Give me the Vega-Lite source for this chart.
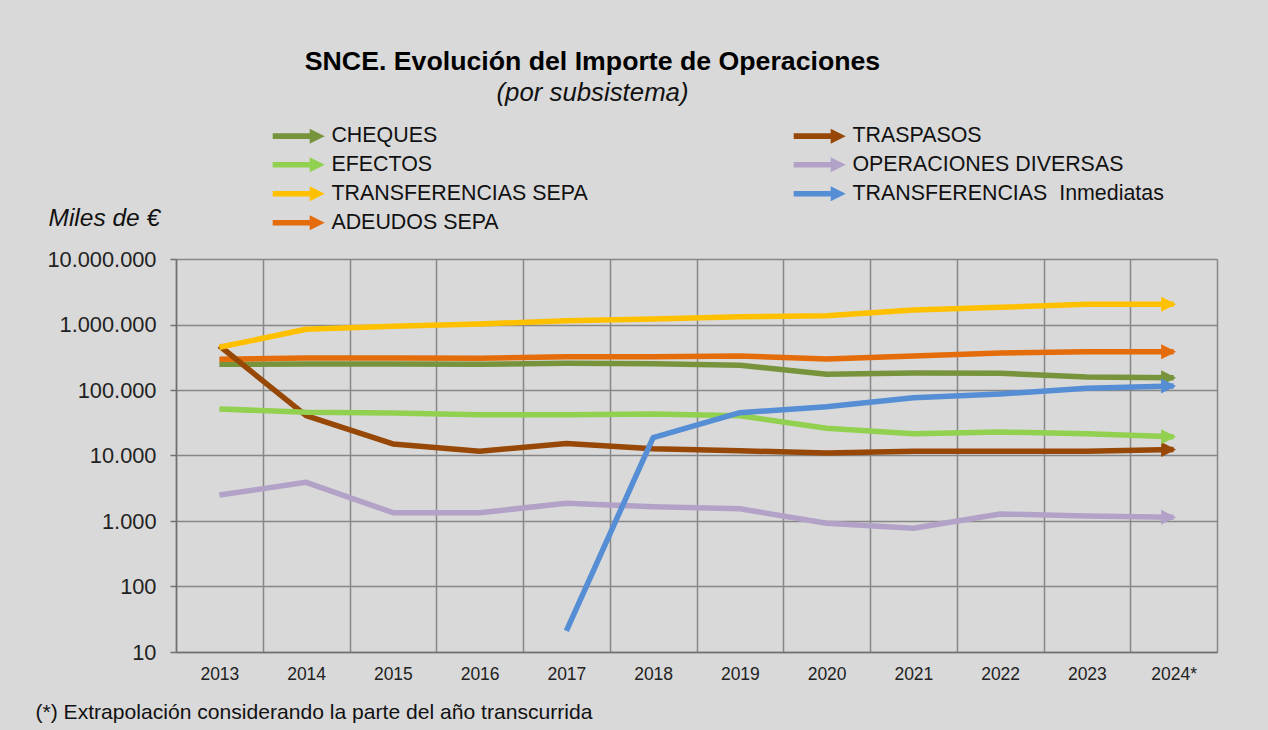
{
  "$schema": "https://vega.github.io/schema/vega-lite/v6.json",
  "autosize": {"type": "none"},
  "width": 1041,
  "height": 393,
  "padding": {"left": 176, "top": 259, "right": 51, "bottom": 78},
  "background": "#d9d9d9",
  "config": {
    "font": "Liberation Sans",
    "view": {"stroke": null},
    "legend": {"padding": 0}
  },
  "title": {
    "text": "SNCE. Evolución del Importe de Operaciones",
    "subtitle": "(por subsistema)",
    "anchor": "middle",
    "frame": "group",
    "dx": -104,
    "fontSize": 26.7,
    "fontWeight": "bold",
    "color": "#000000",
    "subtitleFontSize": 25.8,
    "subtitleFontStyle": "italic",
    "subtitleColor": "#111111",
    "subtitlePadding": 6,
    "offset": 19
  },
  "data": {
    "values": [
      {"year": "2013", "serie": "CHEQUES", "v": 247000},
      {"year": "2014", "serie": "CHEQUES", "v": 249000},
      {"year": "2015", "serie": "CHEQUES", "v": 249000},
      {"year": "2016", "serie": "CHEQUES", "v": 247000},
      {"year": "2017", "serie": "CHEQUES", "v": 255000},
      {"year": "2018", "serie": "CHEQUES", "v": 252000},
      {"year": "2019", "serie": "CHEQUES", "v": 238000},
      {"year": "2020", "serie": "CHEQUES", "v": 174000},
      {"year": "2021", "serie": "CHEQUES", "v": 182000},
      {"year": "2022", "serie": "CHEQUES", "v": 180000},
      {"year": "2023", "serie": "CHEQUES", "v": 158000},
      {"year": "2024*", "serie": "CHEQUES", "v": 154000},
      {"year": "2013", "serie": "ADEUDOS SEPA", "v": 294000},
      {"year": "2014", "serie": "ADEUDOS SEPA", "v": 308000},
      {"year": "2015", "serie": "ADEUDOS SEPA", "v": 308000},
      {"year": "2016", "serie": "ADEUDOS SEPA", "v": 305000},
      {"year": "2017", "serie": "ADEUDOS SEPA", "v": 323000},
      {"year": "2018", "serie": "ADEUDOS SEPA", "v": 323000},
      {"year": "2019", "serie": "ADEUDOS SEPA", "v": 330000},
      {"year": "2020", "serie": "ADEUDOS SEPA", "v": 297000},
      {"year": "2021", "serie": "ADEUDOS SEPA", "v": 330000},
      {"year": "2022", "serie": "ADEUDOS SEPA", "v": 367000},
      {"year": "2023", "serie": "ADEUDOS SEPA", "v": 384000},
      {"year": "2024*", "serie": "ADEUDOS SEPA", "v": 384000},
      {"year": "2013", "serie": "TRASPASOS", "v": 474000},
      {"year": "2014", "serie": "TRASPASOS", "v": 40500},
      {"year": "2015", "serie": "TRASPASOS", "v": 15000},
      {"year": "2016", "serie": "TRASPASOS", "v": 11600},
      {"year": "2017", "serie": "TRASPASOS", "v": 15300},
      {"year": "2018", "serie": "TRASPASOS", "v": 12700},
      {"year": "2019", "serie": "TRASPASOS", "v": 11800},
      {"year": "2020", "serie": "TRASPASOS", "v": 10900},
      {"year": "2021", "serie": "TRASPASOS", "v": 11600},
      {"year": "2022", "serie": "TRASPASOS", "v": 11600},
      {"year": "2023", "serie": "TRASPASOS", "v": 11600},
      {"year": "2024*", "serie": "TRASPASOS", "v": 12400},
      {"year": "2013", "serie": "TRANSFERENCIAS SEPA", "v": 449000},
      {"year": "2014", "serie": "TRANSFERENCIAS SEPA", "v": 845000},
      {"year": "2015", "serie": "TRANSFERENCIAS SEPA", "v": 940000},
      {"year": "2016", "serie": "TRANSFERENCIAS SEPA", "v": 1020000},
      {"year": "2017", "serie": "TRANSFERENCIAS SEPA", "v": 1140000},
      {"year": "2018", "serie": "TRANSFERENCIAS SEPA", "v": 1210000},
      {"year": "2019", "serie": "TRANSFERENCIAS SEPA", "v": 1310000},
      {"year": "2020", "serie": "TRANSFERENCIAS SEPA", "v": 1360000},
      {"year": "2021", "serie": "TRANSFERENCIAS SEPA", "v": 1660000},
      {"year": "2022", "serie": "TRANSFERENCIAS SEPA", "v": 1830000},
      {"year": "2023", "serie": "TRANSFERENCIAS SEPA", "v": 2030000},
      {"year": "2024*", "serie": "TRANSFERENCIAS SEPA", "v": 2030000},
      {"year": "2013", "serie": "EFECTOS", "v": 51300},
      {"year": "2014", "serie": "EFECTOS", "v": 45700},
      {"year": "2015", "serie": "EFECTOS", "v": 44600},
      {"year": "2016", "serie": "EFECTOS", "v": 42000},
      {"year": "2017", "serie": "EFECTOS", "v": 42000},
      {"year": "2018", "serie": "EFECTOS", "v": 43000},
      {"year": "2019", "serie": "EFECTOS", "v": 40500},
      {"year": "2020", "serie": "EFECTOS", "v": 26000},
      {"year": "2021", "serie": "EFECTOS", "v": 21500},
      {"year": "2022", "serie": "EFECTOS", "v": 22800},
      {"year": "2023", "serie": "EFECTOS", "v": 21500},
      {"year": "2024*", "serie": "EFECTOS", "v": 19400},
      {"year": "2013", "serie": "OPERACIONES DIVERSAS", "v": 2490},
      {"year": "2014", "serie": "OPERACIONES DIVERSAS", "v": 3900},
      {"year": "2015", "serie": "OPERACIONES DIVERSAS", "v": 1340},
      {"year": "2016", "serie": "OPERACIONES DIVERSAS", "v": 1340},
      {"year": "2017", "serie": "OPERACIONES DIVERSAS", "v": 1860},
      {"year": "2018", "serie": "OPERACIONES DIVERSAS", "v": 1650},
      {"year": "2019", "serie": "OPERACIONES DIVERSAS", "v": 1540},
      {"year": "2020", "serie": "OPERACIONES DIVERSAS", "v": 923},
      {"year": "2021", "serie": "OPERACIONES DIVERSAS", "v": 773},
      {"year": "2022", "serie": "OPERACIONES DIVERSAS", "v": 1280},
      {"year": "2023", "serie": "OPERACIONES DIVERSAS", "v": 1190},
      {"year": "2024*", "serie": "OPERACIONES DIVERSAS", "v": 1140},
      {"year": "2017", "serie": "TRANSFERENCIAS\u00a0 Inmediatas", "v": 21},
      {"year": "2018", "serie": "TRANSFERENCIAS\u00a0 Inmediatas", "v": 18700},
      {"year": "2019", "serie": "TRANSFERENCIAS\u00a0 Inmediatas", "v": 45000},
      {"year": "2020", "serie": "TRANSFERENCIAS\u00a0 Inmediatas", "v": 55600},
      {"year": "2021", "serie": "TRANSFERENCIAS\u00a0 Inmediatas", "v": 76000},
      {"year": "2022", "serie": "TRANSFERENCIAS\u00a0 Inmediatas", "v": 87000},
      {"year": "2023", "serie": "TRANSFERENCIAS\u00a0 Inmediatas", "v": 106000},
      {"year": "2024*", "serie": "TRANSFERENCIAS\u00a0 Inmediatas", "v": 115000}
    ]
  },
  "encoding": {
    "x": {
      "field": "year",
      "type": "ordinal",
      "bandPosition": 0.5,
      "scale": {
        "type": "band",
        "paddingInner": 0,
        "paddingOuter": 0,
        "domain": ["2013", "2014", "2015", "2016", "2017", "2018", "2019", "2020", "2021", "2022", "2023", "2024*"]
      },
      "axis": {
        "title": "(*) Extrapolación considerando la parte del año transcurrida",
        "titleX": -141,
        "titleY": 66,
        "titleAlign": "left",
        "titleAnchor": "start",
        "titleBaseline": "alphabetic",
        "titleFontSize": 21.1,
        "titleFontWeight": "normal",
        "titleColor": "#111111",
        "labelAngle": 0,
        "labelFontSize": 17.5,
        "labelColor": "#222222",
        "labelPadding": 13,
        "ticks": false,
        "tickBand": "extent",
        "grid": true,
        "gridColor": "#878787",
        "gridWidth": 1.5,
        "domainColor": "#707070",
        "domainWidth": 1.5
      }
    },
    "y": {
      "field": "v",
      "type": "quantitative",
      "scale": {"type": "log", "domain": [10, 10000000], "nice": false},
      "axis": {
        "values": [10, 100, 1000, 10000, 100000, 1000000, 10000000],
        "labelExpr": "replace(format(datum.value, ','), regexp(',', 'g'), '.')",
        "title": "Miles de €",
        "titleAngle": 0,
        "titleAlign": "left",
        "titleBaseline": "alphabetic",
        "titleX": -128,
        "titleY": -34,
        "titleFontSize": 24.5,
        "titleFontStyle": "italic",
        "titleFontWeight": "normal",
        "titleColor": "#111111",
        "labelFontSize": 21.8,
        "labelColor": "#222222",
        "labelPadding": 14,
        "tickSize": 6,
        "tickColor": "#707070",
        "tickWidth": 1.5,
        "grid": true,
        "gridColor": "#878787",
        "gridWidth": 1.5,
        "domainColor": "#707070",
        "domainWidth": 1.5
      }
    },
    "color": {
      "field": "serie",
      "type": "nominal",
      "scale": {
        "domain": ["CHEQUES", "EFECTOS", "TRANSFERENCIAS SEPA", "ADEUDOS SEPA", "TRASPASOS", "OPERACIONES DIVERSAS", "TRANSFERENCIAS\u00a0 Inmediatas"],
        "range": ["#77933c", "#92d050", "#ffc000", "#e46c0a", "#974806", "#b3a2c7", "#558ed5"]
      },
      "legend": {
        "orient": "none",
        "legendX": 94,
        "legendY": -134,
        "columns": 2,
        "columnPadding": 203,
        "rowPadding": 6,
        "title": null,
        "symbolType": "M-1,-0.35L3.625,-0.35L3.625,-0.94L5.5,0L3.625,0.94L3.625,0.35L-1,0.35Z",
        "symbolSize": 256,
        "symbolStrokeWidth": 0,
        "labelFontSize": 21.4,
        "labelColor": "#111111",
        "labelOffset": 40,
        "labelLimit": 500,
        "encode": {
          "symbols": {
            "update": {
              "fill": {"scale": "color", "field": "value"},
              "stroke": {"value": "transparent"},
              "opacity": {"value": 1}
            }
          }
        }
      }
    }
  },
  "layer": [
    {
      "mark": {"type": "line", "strokeWidth": 5.5, "strokeCap": "butt", "strokeJoin": "round"}
    },
    {
      "transform": [{"filter": "datum.year == '2024*'"}],
      "mark": {"type": "point", "shape": "M-1,-1L1,0L-1,1Z", "size": 225, "filled": true, "opacity": 1, "strokeWidth": 0, "xOffset": -5}
    }
  ]
}
